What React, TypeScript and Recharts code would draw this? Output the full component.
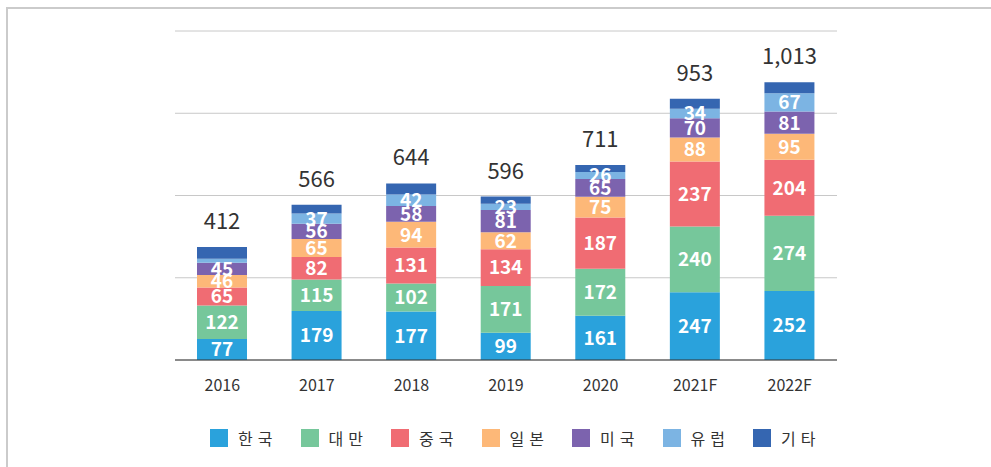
import React from 'react'
import { BarChart, Bar, XAxis, YAxis, CartesianGrid, LabelList } from 'recharts'

const years = ['2016', '2017', '2018', '2019', '2020', '2021F', '2022F']
const korea = [77, 179, 177, 99, 161, 247, 252]
const taiwan = [122, 115, 102, 171, 172, 240, 274]
const china = [65, 82, 131, 134, 187, 237, 204]
const japan = [46, 65, 94, 62, 75, 88, 95]
const usa = [45, 56, 58, 81, 65, 70, 81]
const europe = [14, 37, 42, 23, 26, 34, 67]
const others = [43, 32, 40, 26, 25, 37, 40]
const yTicks = [0, 300, 600, 900, 1200]

const SERIES = [
  { key: 'korea', name: '한국', color: '#2aa2dc', values: korea, label: true },
  { key: 'taiwan', name: '대만', color: '#76c79b', values: taiwan, label: true },
  { key: 'china', name: '중국', color: '#f06c73', values: china, label: true },
  { key: 'japan', name: '일본', color: '#fdb878', values: japan, label: true },
  { key: 'usa', name: '미국', color: '#7c63ae', values: usa, label: true },
  { key: 'europe', name: '유럽', color: '#7cb4e3', values: europe, label: true },
  { key: 'others', name: '기타', color: '#3566b1', values: others, label: false },
]

const FONT = "'Noto Sans CJK KR', 'Noto Sans', sans-serif"

const data = years.map((year, i) => {
  const row: Record<string, string | number> = { year }
  let total = 0
  SERIES.forEach((s) => {
    row[s.key] = s.values[i]
    total += s.values[i]
  })
  row.total = total
  return row
})

function SegmentLabel(props: any) {
  const { x, y, width, height, value } = props
  if (value == null || value < 20) return null
  return (
    <text
      x={x + width / 2}
      y={y + height / 2}
      dy="0.36em"
      textAnchor="middle"
      fill="#fff"
      fontSize={19}
      fontWeight={700}
      fontFamily={FONT}
    >
      {value}
    </text>
  )
}

function TotalLabel(props: any) {
  const { x, y, width, index } = props
  const total = data[index].total as number
  return (
    <text
      x={x + width / 2}
      y={y - 26}
      dy="0.36em"
      textAnchor="middle"
      fill="#333"
      fontSize={22}
      fontFamily={FONT}
    >
      {total.toLocaleString('en-US')}
    </text>
  )
}

function LegendBox() {
  return (
    <div style={{ position: 'absolute', top: 426, left: 210, display: 'flex', fontFamily: FONT }}>
      {SERIES.map((s) => (
        <div key={s.key} style={{ display: 'flex', alignItems: 'center', width: 90.5 }}>
          <span style={{ width: 18, height: 18, background: s.color, display: 'inline-block' }} />
          <span style={{ marginLeft: 10, fontSize: 16, color: '#333', letterSpacing: 5 }}>{s.name}</span>
        </div>
      ))}
    </div>
  )
}

export default function App() {
  return (
    <div style={{ position: 'relative', width: 991, height: 467, overflow: 'hidden', background: '#fff' }}>
      <style>{'body{margin:0}'}</style>
      <div
        style={{
          position: 'absolute',
          left: 6,
          top: 7,
          width: 990,
          height: 470,
          borderTop: '2px solid #cbcbcb',
          borderLeft: '2px solid #cbcbcb',
        }}
      />
      <BarChart
        width={991}
        height={467}
        data={data}
        margin={{ top: 31, right: 154, bottom: 77, left: 175 }}
        style={{ position: 'absolute', left: 0, top: 0 }}
      >
        <CartesianGrid vertical={false} stroke="#c8c8c8" />
        <YAxis hide domain={[0, 1200]} ticks={yTicks} />
        <XAxis
          dataKey="year"
          axisLine={{ stroke: '#333' }}
          tickLine={false}
          tickMargin={14}
          tick={{ fill: '#333', fontSize: 16, fontFamily: FONT }}
        />
        {SERIES.map((s) => (
          <Bar key={s.key} dataKey={s.key} name={s.name} stackId="a" fill={s.color} barSize={50} isAnimationActive={false}>
            {s.label ? (
              <LabelList dataKey={s.key} content={SegmentLabel} />
            ) : (
              <LabelList dataKey={s.key} content={TotalLabel} />
            )}
          </Bar>
        ))}
      </BarChart>
      <LegendBox />
    </div>
  )
}
